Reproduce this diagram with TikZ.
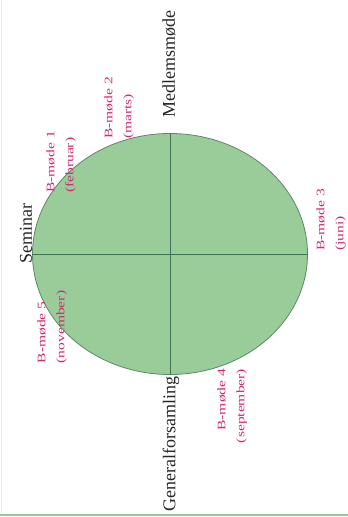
\documentclass[tikz,border=0pt]{standalone}
\usepackage{fontspec}
\setmainfont{Liberation Serif}
\usepackage{graphicx}
\usetikzlibrary{shapes.geometric, positioning}
\definecolor{wheelfill}{RGB}{153,204,153}
\definecolor{wheeldraw}{RGB}{95,135,105}
\definecolor{axisline}{RGB}{60,115,85}
\definecolor{meetpink}{RGB}{204,45,115}
\definecolor{framegreen}{RGB}{150,200,150}
\definecolor{edgefaint}{RGB}{225,242,238}
\newcommand{\widen}[1]{\scalebox{1.35}[1]{#1}}

\begin{document}
\begin{tikzpicture}[
    x=1pt, y=-1pt,
    wheel/.style={ellipse, draw=wheeldraw, fill=wheelfill,
      line width=0.8pt, minimum width=275pt, minimum height=241pt,
      inner sep=0pt},
    axis/.style={draw=axisline, line width=0.9pt},
    event/.style={rotate=90, font=\fontsize{18}{20}\selectfont,
      text=black!85, inner sep=0pt},
    board/.style={rotate=90, font=\fontsize{11.5}{19}\selectfont,
      text=meetpink, inner sep=0pt},
]
\useasboundingbox (0,0) rectangle (348,517);

% ── Frame edges ──
\draw[edgefaint, line width=1pt] (1,0) -- (1,514);
\draw[framegreen, line width=2pt] (0,515) -- (348,515);

% ── Year wheel ──
\node[wheel] (year) at (170,254) {};
\draw[axis] (year.north) -- (year.south);
\draw[axis] (year.west) -- (year.east);

% ── Main events ──
\node[event] (medlem) at (169,64) {Medlemsmøde};
\node[event] (seminar) at (26,234) {Seminar};
\node[event] (genfors) at (171,444) {Generalforsamling};

% ── Board meetings ──
\node[board, align=left] (bm1) at (61,162)
  {\widen{B-møde 1}\\\widen{(februar)}};
\node[board, align=left] (bm2) at (119,108)
  {\widen{B-møde 2}\\\widen{(marts)}};
\node[board, align=left] (bm3) at (331,220)
  {\widen{B-møde 3}\\\widen{(juni)}};
\node[board, align=right] (bm4) at (232,406)
  {\widen{B-møde 4}\\\widen{(september)}};
\node[board, align=left] (bm5) at (52,327)
  {\widen{B-møde 5}\\\widen{(november)}};

\end{tikzpicture}
\end{document}
